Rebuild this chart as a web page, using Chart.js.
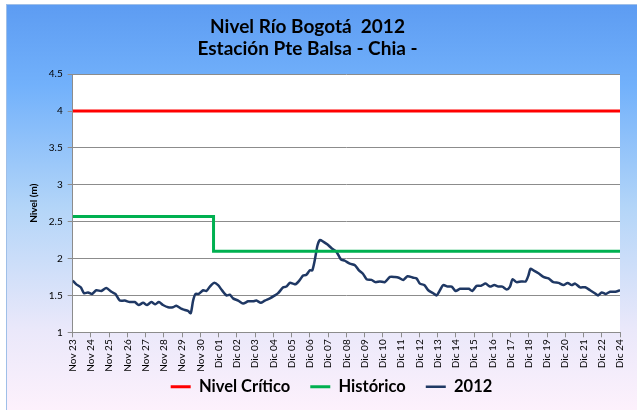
<!DOCTYPE html>
<html lang="es">
<head>
<meta charset="UTF-8">
<title>Nivel Río Bogotá 2012</title>
<script src="https://cdn.jsdelivr.net/npm/chart.js"></script>
<style>
html, body { margin: 0; padding: 0; background: #fff; }
#wrap { width: 637px; height: 410px; }
</style>
</head>
<body>
<div id="wrap"><canvas id="nivelChart" width="637" height="410"></canvas></div>
<script>
// etiquetas del eje X (el original salta Dic 23)
const etiquetas = ['Nov 23', 'Nov 24', 'Nov 25', 'Nov 26', 'Nov 27', 'Nov 28', 'Nov 29', 'Nov 30',
  'Dic 01', 'Dic 02', 'Dic 03', 'Dic 04', 'Dic 05', 'Dic 06', 'Dic 07', 'Dic 08', 'Dic 09', 'Dic 10',
  'Dic 11', 'Dic 12', 'Dic 13', 'Dic 14', 'Dic 15', 'Dic 16', 'Dic 17', 'Dic 18', 'Dic 19', 'Dic 20',
  'Dic 21', 'Dic 22', 'Dic 24'];

// lecturas 2012: posición sobre el eje (en marcas) y nivel en metros
const pos2012 = [0, 0.20, 0.44, 0.62, 0.84, 1.06, 1.29, 1.57, 1.84, 2.12,
  2.34, 2.58, 2.85, 3.13, 3.40, 3.62, 3.86, 4.08, 4.31, 4.53,
  4.72, 4.95, 5.23, 5.50, 5.68, 5.96, 6.05, 6.32, 6.47, 6.60,
  6.73, 6.91, 7.15, 7.33, 7.52, 7.75, 7.97, 8.15, 8.43, 8.61,
  8.79, 9.07, 9.34, 9.62, 9.89, 10.07, 10.31, 10.53, 10.81, 11.08,
  11.26, 11.54, 11.72, 11.90, 12.08, 12.21, 12.45, 12.63, 12.81, 13.00,
  13.13, 13.27, 13.42, 13.55, 13.73, 13.97, 14.19, 14.46, 14.70, 14.92,
  15.19, 15.47, 15.69, 15.92, 16.11, 16.38, 16.60, 16.84, 17.11, 17.39,
  17.66, 17.88, 18.12, 18.35, 18.67, 18.85, 19.03, 19.27, 19.49, 19.76,
  19.95, 20.13, 20.31, 20.55, 20.77, 20.99, 21.23, 21.50, 21.72, 21.90,
  22.14, 22.38, 22.63, 22.87, 23.11, 23.33, 23.55, 23.79, 23.97, 24.11,
  24.33, 24.58, 24.83, 24.98, 25.09, 25.25, 25.53, 25.80, 26.08, 26.35,
  26.63, 26.90, 27.13, 27.35, 27.54, 27.81, 28.09, 28.36, 28.62, 28.80,
  29.00, 29.22, 29.46, 29.74, 30.00];
const nivel2012 = [1.70, 1.65, 1.61, 1.53, 1.54, 1.52, 1.57, 1.56, 1.60, 1.55,
  1.52, 1.43, 1.43, 1.41, 1.41, 1.37, 1.40, 1.37, 1.41, 1.38,
  1.41, 1.37, 1.34, 1.34, 1.36, 1.32, 1.31, 1.29, 1.26, 1.43,
  1.52, 1.52, 1.57, 1.56, 1.62, 1.67, 1.64, 1.58, 1.50, 1.51,
  1.46, 1.43, 1.39, 1.42, 1.42, 1.43, 1.40, 1.43, 1.46, 1.50,
  1.53, 1.61, 1.62, 1.67, 1.66, 1.65, 1.71, 1.77, 1.78, 1.84,
  1.84, 1.98, 2.18, 2.25, 2.23, 2.19, 2.14, 2.09, 1.99, 1.97,
  1.93, 1.91, 1.84, 1.79, 1.72, 1.71, 1.68, 1.69, 1.68, 1.75,
  1.75, 1.74, 1.71, 1.76, 1.74, 1.73, 1.66, 1.64, 1.57, 1.53,
  1.50, 1.57, 1.64, 1.62, 1.62, 1.56, 1.59, 1.59, 1.59, 1.56,
  1.63, 1.63, 1.66, 1.62, 1.64, 1.62, 1.62, 1.58, 1.62, 1.72,
  1.68, 1.69, 1.69, 1.77, 1.86, 1.84, 1.80, 1.75, 1.73, 1.68,
  1.67, 1.64, 1.67, 1.64, 1.66, 1.61, 1.61, 1.57, 1.53, 1.50,
  1.54, 1.52, 1.55, 1.55, 1.57];

const nivelCritico = 4.0;
const historicoAntes = 2.57;
const historicoDespues = 2.10;
const cambioHistorico = 7.72; // punto del eje donde baja el histórico

const fin = etiquetas.length - 1;
const gris = '#8c8c8c';
const fuente = 'Lato, "Liberation Sans", sans-serif';

// fondo degradado del gráfico y área de trazado blanca
const fondo = {
  id: 'fondo',
  beforeDraw(chart) {
    const { ctx, width, height, chartArea: a } = chart;
    ctx.save();
    ctx.fillStyle = '#ffffff';
    ctx.fillRect(0, 0, width, height);
    const g = ctx.createLinearGradient(0, 5, 0, height);
    g.addColorStop(0, '#5d9cf2');
    g.addColorStop(0.2, '#72b1fb');
    g.addColorStop(0.5, '#b3d5f8');
    g.addColorStop(0.8, '#eae8fa');
    g.addColorStop(1, '#fdf1fc');
    ctx.fillStyle = g;
    ctx.fillRect(7, 5, width - 7, height - 5);
    ctx.strokeStyle = '#9fbfe8';
    ctx.lineWidth = 1;
    ctx.strokeRect(6.5, 4.5, width, height);
    ctx.fillStyle = '#ffffff';
    ctx.fillRect(a.left, a.top, a.right - a.left, a.bottom - a.top);
    ctx.restore();
  },
  afterLayout(chart) {
    // título y leyenda no están centrados igual en el original
    chart.titleBlock.left -= 6; chart.titleBlock.right -= 6;
    chart.legend.left += 18; chart.legend.right += 18;
  }
};

const ctx = document.getElementById('nivelChart').getContext('2d');
new Chart(ctx, {
  type: 'line',
  data: {
    datasets: [{
      label: 'Nivel Crítico',
      data: [{ x: 0, y: nivelCritico }, { x: fin, y: nivelCritico }],
      borderColor: '#ff0000',
      backgroundColor: '#ff0000',
      borderWidth: 3,
      pointRadius: 0
    }, {
      label: 'Histórico',
      data: [{ x: 0, y: historicoAntes }, { x: cambioHistorico, y: historicoAntes },
             { x: cambioHistorico, y: historicoDespues }, { x: fin, y: historicoDespues }],
      borderColor: '#00b050',
      backgroundColor: '#00b050',
      borderWidth: 3,
      pointRadius: 0
    }, {
      label: '2012',
      data: pos2012.map((x, i) => ({ x: x, y: nivel2012[i] })),
      borderColor: '#1f3864',
      backgroundColor: '#1f3864',
      borderWidth: 2.5,
      pointRadius: 0,
      tension: 0.25
    }]
  },
  options: {
    responsive: false,
    animation: false,
    layout: { padding: { left: 7, right: 17, top: 5, bottom: 5 } },
    plugins: {
      title: {
        display: true,
        text: ['Nivel Río Bogotá  2012', 'Estación Pte Balsa - Chia -'],
        color: '#000',
        font: { family: fuente, size: 19, weight: 'bold', lineHeight: 1.13 },
        padding: { top: 11.2, bottom: 15 }
      },
      legend: {
        position: 'bottom',
        labels: {
          color: '#000',
          font: { family: fuente, size: 16.5, weight: 'bold' },
          usePointStyle: true,
          pointStyle: 'line',
          pointStyleWidth: 20,
          padding: 4,
          // separación extra entre entradas
          generateLabels(chart) {
            const items = Chart.defaults.plugins.legend.labels.generateLabels(chart);
            items.forEach((it, i) => { if (i < items.length - 1) it.text += '    '; });
            return items;
          }
        }
      },
      tooltip: { enabled: false }
    },
    scales: {
      x: {
        type: 'linear',
        min: 0,
        max: fin,
        afterFit(scale) { scale.height = 42.2; },
        ticks: {
          stepSize: 1,
          autoSkip: false,
          maxRotation: 90,
          minRotation: 90,
          padding: 2,
          color: '#000',
          font: { family: fuente, size: 10 },
          callback: (v) => etiquetas[v]
        },
        grid: { drawOnChartArea: false, color: gris, tickLength: 5 },
        border: { color: gris }
      },
      y: {
        min: 1,
        max: 4.5,
        afterFit(scale) { scale.width = 65.7; },
        ticks: {
          stepSize: 0.5,
          padding: 5,
          color: '#000',
          font: { family: fuente, size: 10 },
          callback: (v) => String(v)
        },
        grid: { color: gris, tickLength: 5 },
        border: { color: gris },
        title: {
          display: true,
          text: 'Nivel (m)',
          color: '#000',
          font: { family: fuente, size: 10, weight: 'bold' },
          padding: { top: 21, bottom: 0 }
        }
      }
    }
  },
  plugins: [fondo]
});
</script>
</body>
</html>
